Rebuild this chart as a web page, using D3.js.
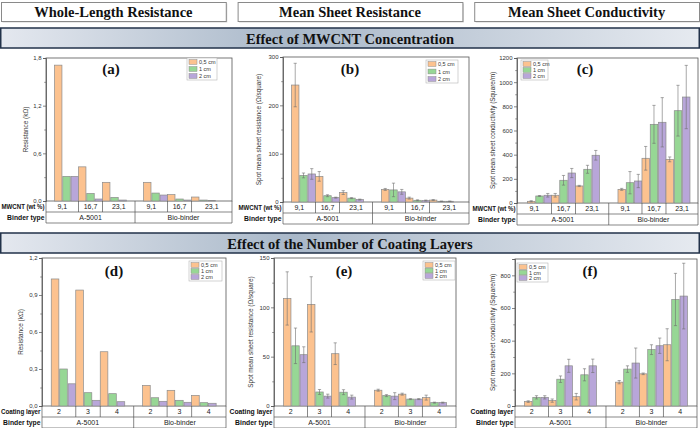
<!DOCTYPE html>
<html>
<head>
<meta charset="utf-8">
<script src="https://cdn.jsdelivr.net/npm/d3@7"></script>
<style>
body { margin: 0; background: #fff; }
svg { display: block; }
</style>
</head>
<body>
<svg id="fig" width="700" height="428"></svg>
<script>
'use strict';

var sizes = ["0,5 cm", "1 cm", "2 cm"];
var binders = ["A-5001", "Bio-binder"];
var mwcntLevels = ["9,1", "16,7", "23,1"];
var coatingLevels = ["2", "3", "4"];
var columnTitles = ["Whole-Length Resistance", "Mean Sheet Resistance", "Mean Sheet Conductivity"];
var bannerTitles = ["Effect of MWCNT Concentration", "Effect of the Number of Coating Layers"];

// rows: A-5001 (3 levels) then Bio-binder (3 levels); columns: 0,5 / 1 / 2 cm
var resistanceMwcnt = [[1.71, 0.31, 0.31], [0.43, 0.095, 0.025], [0.235, 0.045, 0.012],
                       [0.235, 0.10, 0.075], [0.08, 0.025, 0.012], [0.05, 0.012, 0.008]];
var sheetResMwcnt = [[242, 55, 58], [53, 13, 9], [19.5, 8, 5],
                     [26, 25, 21], [8, 3.5, 3], [4, 1.5, 1.5]];
var sheetResMwcntErr = [[45, 5, 11], [10, 2, 1], [4, 1, 1],
                        [2, 14, 5], [2, 1, 1], [1, 0.5, 0.5]];
var conductMwcnt = [[14, 58, 64], [64, 188, 248], [141, 279, 395],
                    [113, 168, 182], [370, 651, 668], [361, 764, 877]];
var conductMwcntErr = [[5, 4, 15], [15, 40, 38], [5, 33, 40],
                       [8, 92, 55], [98, 157, 204], [20, 210, 262]];

var resistanceLayers = [[1.03, 0.30, 0.18], [0.94, 0.108, 0.046], [0.44, 0.10, 0.035],
                        [0.167, 0.067, 0.038], [0.127, 0.046, 0.03], [0.086, 0.027, 0.022]];
var sheetResLayers = [[109, 61, 52], [103, 14.2, 10], [53, 14, 9],
                      [16, 10.5, 10], [12, 7, 7], [8.5, 3.4, 3.4]];
var sheetResLayersErr = [[27, 18, 8], [28, 2.5, 2], [11, 2.5, 2],
                         [1, 1, 3.5], [1, 0.5, 0.5], [2.5, 0.5, 0.5]];
var conductLayers = [[27, 53, 53], [33, 164, 246], [57, 191, 246],
                     [146, 226, 263], [197, 345, 369], [375, 652, 673]];
var conductLayersErr = [[5, 10, 10], [10, 20, 40], [20, 37, 41],
                        [10, 20, 92], [5, 30, 47], [98, 160, 201]];

var ticksRes1 = [0, 0.6, 1.2, 1.8];
var ticksSheet1 = [0, 100, 200, 300];
var ticksCond1 = [0, 200, 400, 600, 800, 1000, 1200];
var ticksRes2 = [0, 0.3, 0.6, 0.9, 1.2];
var ticksSheet2 = [0, 50, 100, 150];
var ticksCond2 = [0, 200, 400, 600, 800];

var colors = ["#fcc28f", "#97d795", "#b8a6d9"];
var sans = "'Liberation Sans', Arial, sans-serif";
var serif = "'Liberation Serif', 'Times New Roman', serif";

var commaFmt = d3.formatLocale({decimal: ",", thousands: ".", grouping: [3], currency: ["", ""]}).format(".1f");
var intFmt = d3.format("d");

var svg = d3.select("#fig");

// column headers and banners
var defs = svg.append("defs");
var grad = defs.append("linearGradient").attr("id", "bannerGrad");
grad.append("stop").attr("offset", "0%").attr("stop-color", "#e4e8ef");
grad.append("stop").attr("offset", "42%").attr("stop-color", "#a9b8c9");
grad.append("stop").attr("offset", "100%").attr("stop-color", "#e6eaf0");

var headerX = d3.scaleBand().domain(columnTitles).range([1, 699]).paddingInner(0.05);
svg.selectAll(".colshadow").data(columnTitles).enter().append("rect")
    .attr("x", function(d) { return headerX(d) + 1.5; })
    .attr("y", 3.5).attr("width", headerX.bandwidth()).attr("height", 19)
    .attr("fill", "#d4d4d4");
svg.selectAll(".colhead").data(columnTitles).enter().append("rect")
    .attr("x", function(d) { return headerX(d) + 0.5; })
    .attr("y", 2.5).attr("width", headerX.bandwidth()).attr("height", 19)
    .attr("fill", "#fff").attr("stroke", "#8a8a8a").attr("stroke-width", 1);
svg.selectAll(".colheadText").data(columnTitles).enter().append("text")
    .attr("x", function(d) { return headerX(d) + headerX.bandwidth() / 2; })
    .attr("y", 17)
    .attr("text-anchor", "middle")
    .style("font-family", serif).style("font-weight", "bold").style("font-size", "14.5px")
    .attr("fill", "#111")
    .text(function(d) { return d; });

var bannerY = [28, 233];
bannerTitles.forEach(function(t, i) {
    svg.append("rect").attr("x", 0.75).attr("y", bannerY[i]).attr("width", 698.5).attr("height", 20)
        .attr("fill", "url(#bannerGrad)").attr("stroke", "#22324a").attr("stroke-width", 1.5);
    svg.append("text").attr("x", 350).attr("y", bannerY[i] + 15.5).attr("text-anchor", "middle")
        .style("font-family", serif).style("font-weight", "bold").style("font-size", "14.5px")
        .attr("fill", "#111").text(t);
});

var panels = [
    {tag: "(a)", values: resistanceMwcnt, errors: null, levels: mwcntLevels, rowLabel: "MWCNT (wt %)",
     yTitle: "Resistance (k\u03a9)", yMax: 1.8, ticks: ticksRes1, fmt: commaFmt,
     left: 46, right: 232, top: 58, zero: 201, g0: 66.5, step: 24, gap: 0.71,
     titleX: 28, tagX: 111, tagY: 74, legend: [187, 58, 30, 22]},
    {tag: "(b)", values: sheetResMwcnt, errors: sheetResMwcntErr, levels: mwcntLevels, rowLabel: "MWCNT (wt %)",
     yTitle: "Spot mean sheet resistance (\u03a9/square)", yMax: 300, ticks: ticksSheet1, fmt: intFmt,
     left: 283, right: 469, top: 57, zero: 202, g0: 303.5, step: 24, gap: 0.75,
     titleX: 261, tagX: 350, tagY: 74, legend: [426, 60, 32, 23]},
    {tag: "(c)", values: conductMwcnt, errors: conductMwcntErr, levels: mwcntLevels, rowLabel: "MWCNT (wt %)",
     yTitle: "Spot mean sheet conductivity (Square/m)", yMax: 1200, ticks: ticksCond1, fmt: intFmt,
     left: 517, right: 698, top: 58, zero: 203, g0: 539.5, step: 24, gap: 0.77,
     titleX: 495, tagX: 585, tagY: 74, legend: [521, 60, 27, 20]},
    {tag: "(d)", values: resistanceLayers, errors: null, levels: coatingLevels, rowLabel: "Coating layer",
     yTitle: "Resistance (k\u03a9)", yMax: 1.2, ticks: ticksRes2, fmt: commaFmt,
     left: 42, right: 226, top: 258, zero: 406, g0: 63.5, step: 24.5, gap: 0.73,
     titleX: 23, tagX: 114, tagY: 276, legend: [189, 261, 33, 20]},
    {tag: "(e)", values: sheetResLayers, errors: sheetResLayersErr, levels: coatingLevels, rowLabel: "Coating layer",
     yTitle: "Spot mean sheet resistance (\u03a9/square)", yMax: 150, ticks: ticksSheet2, fmt: intFmt,
     left: 274, right: 456, top: 258, zero: 406, g0: 295.5, step: 24, gap: 0.79,
     titleX: 253, tagX: 344, tagY: 276, legend: [423, 261, 32, 19]},
    {tag: "(f)", values: conductLayers, errors: conductLayersErr, levels: coatingLevels, rowLabel: "Coating layer",
     yTitle: "Spot mean sheet conductivity (Square/m)", yMax: 900, ticks: ticksCond2, fmt: intFmt,
     left: 515, right: 697, top: 259, zero: 406, g0: 536.5, step: 24, gap: 0.79,
     titleX: 495, tagX: 590, tagY: 276, legend: [517, 263, 31, 19]}
];

function drawPanel(p) {
    var g = svg.append("g");
    var y = d3.scaleLinear().domain([0, p.yMax]).range([p.zero, p.top]);
    var x = d3.scaleLinear().domain([0, 1]).range([p.g0, p.g0 + p.step]);
    var sub = d3.scaleBand().domain(sizes).range([-p.step / 2, p.step / 2]).paddingInner(0.1);
    var slot = function(i) { return x(i + (i >= 3 ? p.gap : 0)); };

    var groups = p.values.map(function(v, i) {
        return {i: i, binder: binders[Math.floor(i / 3)], level: p.levels[i % 3], vals: v,
                errs: p.errors ? p.errors[i] : null};
    });
    var bars = [];
    groups.forEach(function(gr) {
        gr.vals.forEach(function(v, k) {
            bars.push({cx: slot(gr.i), size: sizes[k], k: k, v: v, e: gr.errs ? gr.errs[k] : 0});
        });
    });

    // frame
    g.append("rect").attr("x", p.left).attr("y", p.top)
        .attr("width", p.right - p.left).attr("height", p.zero - p.top)
        .attr("fill", "none").attr("stroke", "#555").attr("stroke-width", 0.8);

    g.selectAll(".bar").data(bars).enter().append("rect")
        .attr("x", function(d) { return d.cx + sub(d.size); })
        .attr("y", function(d) { return y(d.v); })
        .attr("width", sub.bandwidth())
        .attr("height", function(d) { return p.zero - y(d.v); })
        .attr("fill", function(d) { return colors[d.k]; })
        .attr("stroke", "#8c8c8c").attr("stroke-width", 0.7);

    if (p.errors) {
        var eb = g.selectAll(".err").data(bars).enter().append("g")
            .attr("stroke", "#6f6f6f").attr("stroke-width", 0.6);
        var mid = function(d) { return d.cx + sub(d.size) + sub.bandwidth() / 2; };
        eb.append("line")
            .attr("x1", mid).attr("x2", mid)
            .attr("y1", function(d) { return y(Math.max(0, d.v - d.e)); })
            .attr("y2", function(d) { return y(d.v + d.e); });
        eb.append("line")
            .attr("x1", function(d) { return mid(d) - 1.6; }).attr("x2", function(d) { return mid(d) + 1.6; })
            .attr("y1", function(d) { return y(d.v + d.e); }).attr("y2", function(d) { return y(d.v + d.e); });
        eb.append("line")
            .attr("x1", function(d) { return mid(d) - 1.6; }).attr("x2", function(d) { return mid(d) + 1.6; })
            .attr("y1", function(d) { return y(Math.max(0, d.v - d.e)); })
            .attr("y2", function(d) { return y(Math.max(0, d.v - d.e)); });
    }

    // y axis
    var minor = [];
    for (var t = 0; t < p.ticks.length - 1; t++) { minor.push((p.ticks[t] + p.ticks[t + 1]) / 2); }
    if (p.yMax > p.ticks[p.ticks.length - 1]) {
        minor.push(p.ticks[p.ticks.length - 1] + (p.ticks[1] - p.ticks[0]) / 2);
    }
    var ax = g.append("g").attr("transform", "translate(" + p.left + ",0)")
        .call(d3.axisLeft(y).tickValues(p.ticks).tickSize(3).tickPadding(1.5).tickFormat(p.fmt));
    ax.select(".domain").attr("stroke", "#555").attr("stroke-width", 0.8);
    ax.selectAll(".tick line").attr("stroke", "#555").attr("stroke-width", 0.7);
    ax.selectAll("text").style("font-family", sans).style("font-size", "6px").attr("fill", "#333");
    var axm = g.append("g").attr("transform", "translate(" + p.left + ",0)")
        .call(d3.axisLeft(y).tickValues(minor).tickSize(1.8).tickFormat(""));
    axm.select(".domain").remove();
    axm.selectAll(".tick line").attr("stroke", "#555").attr("stroke-width", 0.6);

    g.append("text")
        .attr("transform", "translate(" + p.titleX + "," + ((p.top + p.zero) / 2) + ") rotate(-90)")
        .attr("text-anchor", "middle")
        .style("font-family", sans).style("font-size", "6.4px").attr("fill", "#333")
        .text(p.yTitle);

    // category table
    var edges = [p.left];
    for (var i = 0; i < 5; i++) { edges.push((slot(i) + slot(i + 1)) / 2); }
    edges.push(p.right);
    var r1 = p.zero, r2 = p.zero + 11, r3 = p.zero + 22;
    var tbl = g.append("g").attr("stroke", "#555").attr("stroke-width", 0.7);
    [r2, r3].forEach(function(ry) {
        tbl.append("line").attr("x1", p.left).attr("x2", p.right).attr("y1", ry).attr("y2", ry);
    });
    edges.forEach(function(ex) {
        tbl.append("line").attr("x1", ex).attr("x2", ex).attr("y1", r1).attr("y2", r2);
    });
    [edges[0], edges[3], edges[6]].forEach(function(ex) {
        tbl.append("line").attr("x1", ex).attr("x2", ex).attr("y1", r2).attr("y2", r3);
    });

    g.selectAll(".lvl").data(groups).enter().append("text")
        .attr("x", function(d) { return (edges[d.i] + edges[d.i + 1]) / 2; })
        .attr("y", r1 + 8.3).attr("text-anchor", "middle")
        .style("font-family", sans).style("font-size", "7px").attr("fill", "#222")
        .text(function(d) { return d.level; });
    g.selectAll(".bnd").data(binders).enter().append("text")
        .attr("x", function(d, j) { return (edges[j * 3] + edges[j * 3 + 3]) / 2; })
        .attr("y", r2 + 8.3).attr("text-anchor", "middle")
        .style("font-family", sans).style("font-size", "7px").attr("fill", "#222")
        .text(function(d) { return d; });
    var maxW = Math.min(p.left - 2.5, 43);
    g.selectAll(".rowlab").data([p.rowLabel, "Binder type"]).enter().append("text")
        .attr("x", p.left - 1.5)
        .attr("y", function(d, j) { return r1 + 8.3 + j * 11; })
        .attr("text-anchor", "end")
        .style("font-family", sans).style("font-weight", "bold").style("font-size", "6.8px").attr("fill", "#111")
        .text(function(d) { return d; })
        .each(function() {
            if (this.getComputedTextLength() > maxW) {
                d3.select(this).attr("textLength", maxW).attr("lengthAdjust", "spacingAndGlyphs");
            }
        });

    // legend
    var L = p.legend;
    var lg = g.append("g");
    lg.append("rect").attr("x", L[0]).attr("y", L[1]).attr("width", L[2]).attr("height", L[3])
        .attr("fill", "#fff").attr("stroke", "#b5b5b5").attr("stroke-width", 0.6);
    var ly = d3.scalePoint().domain(sizes).range([L[1] + 4, L[1] + L[3] - 4]);
    lg.selectAll(".sw").data(sizes).enter().append("rect")
        .attr("x", L[0] + 2).attr("y", function(d) { return ly(d) - 2.4; })
        .attr("width", 8).attr("height", 4.8)
        .attr("fill", function(d, k) { return colors[k]; })
        .attr("stroke", "#8c8c8c").attr("stroke-width", 0.5);
    lg.selectAll(".lt").data(sizes).enter().append("text")
        .attr("x", L[0] + 12).attr("y", function(d) { return ly(d) + 2; })
        .style("font-family", sans).style("font-size", "5.5px").attr("fill", "#333")
        .text(function(d) { return d; });

    g.append("text").attr("x", p.tagX).attr("y", p.tagY).attr("text-anchor", "middle")
        .style("font-family", serif).style("font-weight", "bold").style("font-size", "15px")
        .attr("fill", "#111").text(p.tag);
}

panels.forEach(drawPanel);
</script>
</body>
</html>
